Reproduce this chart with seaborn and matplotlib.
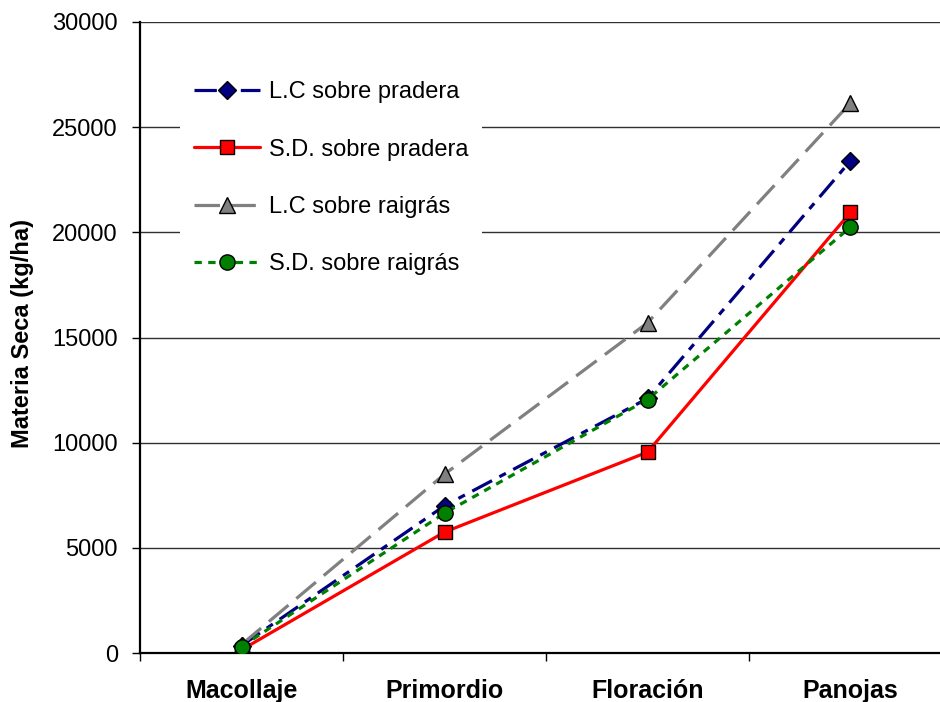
import matplotlib
matplotlib.use("Agg")
import matplotlib.pyplot as plt
import seaborn as sns
import pandas as pd

categories = ["Macollaje", "Primordio", "Floración", "Panojas"]
series_names = ["L.C sobre pradera", "S.D. sobre pradera", "L.C sobre raigrás", "S.D. sobre raigrás"]
lc_pradera = [350, 7000, 12100, 23400]
sd_pradera = [150, 5750, 9550, 20950]
lc_raigras = [400, 8500, 15700, 26150]
sd_raigras = [300, 6650, 12050, 20250]
y_ticks = [0, 5000, 10000, 15000, 20000, 25000, 30000]

values = [lc_pradera, sd_pradera, lc_raigras, sd_raigras]
rows = []
for name, vals in zip(series_names, values):
    for c, v in zip(categories, vals):
        rows.append({"Etapa": c, "Serie": name, "MS": v})
df = pd.DataFrame(rows)

sns.set_style("white")
plt.rcParams["font.family"] = ["Liberation Sans", "DejaVu Sans"]
plt.rcParams["text.color"] = "black"
plt.rcParams["xtick.color"] = "black"
plt.rcParams["ytick.color"] = "black"
plt.rcParams["axes.labelcolor"] = "black"

colors = {series_names[0]: "#000080", series_names[1]: "#FF0000",
          series_names[2]: "#808080", series_names[3]: "#008000"}
markers = {series_names[0]: "D", series_names[1]: "s",
           series_names[2]: "^", series_names[3]: "o"}
dashes = {series_names[0]: (7, 2.6, 2.3, 2.6), series_names[1]: "",
          series_names[2]: (8, 3.2), series_names[3]: (2.3, 2.0)}
msizes = [9.5, 10, 11, 11]

fig = plt.figure(figsize=(9.4, 7.02), dpi=100)
ax = fig.add_axes([140 / 940, 1 - 653 / 702, 812 / 940, 631 / 702])

sns.lineplot(data=df, x="Etapa", y="MS", hue="Serie", style="Serie",
             hue_order=series_names, style_order=series_names,
             palette=colors, markers=markers, dashes=dashes, sort=False,
             linewidth=2.3, markeredgecolor="black", markeredgewidth=1.0,
             legend=False, ax=ax, zorder=3)

lines = ax.lines[:4]
for ln, name, ms in zip(lines, series_names, msizes):
    ln.set_label(name)
    ln.set_markersize(ms)

ax.set_xlim(-0.5, 3.5)
ax.set_ylim(0, 30000)
ax.set_yticks(y_ticks)
ax.set_yticklabels([str(t) for t in y_ticks], fontsize=17)
ax.yaxis.grid(True, color="#303030", linewidth=1.0)
ax.set_axisbelow(True)

ax.set_xticks([-0.5, 0.5, 1.5, 2.5, 3.5])
ax.set_xticklabels([])
ax.set_xticks([0, 1, 2, 3], minor=True)
ax.set_xticklabels(categories, minor=True, fontsize=18, fontweight="bold")
ax.tick_params(axis="x", which="major", direction="out", length=6, width=1, color="black", bottom=True)
ax.tick_params(axis="x", which="minor", length=0, pad=19)
ax.tick_params(axis="y", direction="out", length=6, width=1, color="black", pad=10, left=True)

for s in ["top", "right"]:
    ax.spines[s].set_visible(False)
for s in ["left", "bottom"]:
    ax.spines[s].set_color("black")
    ax.spines[s].set_linewidth(1.6)

ax.set_xlabel("")
ax.set_ylabel("Materia Seca (kg/ha)", fontsize=17, fontweight="bold")
ax.yaxis.set_label_coords((34 - 140) / 812, 0.507)

leg = ax.legend(handles=lines, labels=series_names, loc="upper left",
                bbox_to_anchor=(180 / 940, 1 - 67 / 702), bbox_transform=fig.transFigure,
                borderaxespad=0,
                fontsize=17, frameon=True, fancybox=False, framealpha=1,
                facecolor="white", edgecolor="none", handlelength=2.8,
                labelspacing=1.5, borderpad=0.6, handletextpad=0.35, numpoints=1)
leg.set_zorder(5)

fig.savefig("out.png", dpi=100)
